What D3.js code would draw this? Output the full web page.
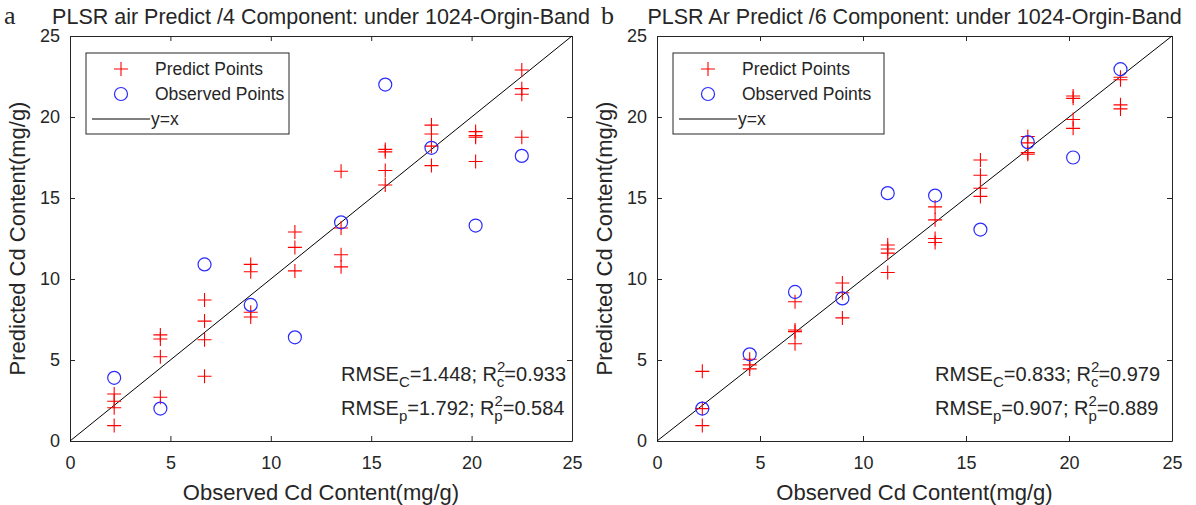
<!DOCTYPE html>
<html>
<head>
<meta charset="utf-8">
<script src="https://cdn.jsdelivr.net/npm/d3@7"></script>
<style>
  body { margin: 0; background: #fff; }
  text { font-family: "Liberation Sans", Arial, sans-serif; fill: #262626; }
</style>
</head>
<body>
<div id="chart"></div>
<script>
// Observed concentrations (shared x positions)
const xObs = [2.2, 4.5, 6.7, 9.0, 11.2, 13.5, 15.7, 18.0, 20.2, 22.5];

// Panel a: observed (blue circles) and predicted (red crosses)
const obsA = [3.9, 2.0, 10.9, 8.4, 6.4, 13.5, 22.0, 18.1, 13.3, 17.6];
const predA = [
  [2.9, 2.45, 2.05, 0.95],
  [6.55, 6.3, 5.2, 2.7],
  [8.7, 7.4, 6.25, 4.0],
  [10.9, 10.45, 7.95, 7.65],
  [12.9, 11.95, 10.5],
  [16.65, 13.15, 11.5, 10.75],
  [18.0, 17.85, 16.7, 15.8],
  [19.5, 18.95, 18.2, 17.0],
  [19.1, 18.85, 18.75, 17.25],
  [22.9, 21.75, 21.4, 18.75]
];

// Panel b
const obsB = [2.0, 5.35, 9.2, 8.8, 15.3, 15.15, 13.05, 18.45, 17.5, 22.95];
const predB = [
  [4.3, 2.0, 0.95],
  [5.05, 4.7, 4.45],
  [8.6, 6.85, 6.75, 6.0],
  [9.75, 9.15, 7.6],
  [12.1, 11.85, 11.6, 10.4],
  [14.45, 13.65, 12.5, 12.25],
  [17.35, 16.4, 15.6, 15.1],
  [18.8, 18.4, 17.8, 17.7],
  [21.3, 21.15, 19.85, 19.3],
  [22.45, 22.3, 20.75, 20.5]
];

const ticks = [0, 5, 10, 15, 20, 25];
const legendLabels = ["Predict Points", "Observed Points", "y=x"];

const panels = [
  { tag: "a", title: "PLSR air Predict /4 Component: under 1024-Orgin-Band",
    obs: obsA, pred: predA, stats: [["C", "1.448", "c", "0.933"], ["p", "1.792", "p", "0.584"]],
    left: 70, right: 572, legendW: 203, tagX: 4 },
  { tag: "b", title: "PLSR Ar Predict /6 Component: under 1024-Orgin-Band",
    obs: obsB, pred: predB, stats: [["C", "0.833", "c", "0.979"], ["p", "0.907", "p", "0.889"]],
    left: 657, right: 1172, legendW: 211, tagX: 601 }
];

const W = 1196, H = 505;
const plotTop = 36, plotBottom = 441;

const svg = d3.select("#chart").append("svg")
  .attr("width", W).attr("height", H);

panels.forEach(p => {
  const x = d3.scaleLinear().domain([0, 25]).range([p.left, p.right]);
  const y = d3.scaleLinear().domain([0, 25]).range([plotBottom, plotTop]);
  const g = svg.append("g");

  // axes with inward ticks on all four sides
  const axisStyle = sel => {
    sel.select(".domain").attr("stroke", "#262626");
    sel.selectAll(".tick line").attr("stroke", "#262626");
    sel.selectAll(".tick text").style("font-size", "18px").attr("fill", "#262626");
  };
  g.append("g").attr("transform", `translate(0,${plotBottom})`)
    .call(d3.axisBottom(x).tickValues(ticks).tickSizeInner(-5).tickSizeOuter(0).tickPadding(15))
    .call(axisStyle);
  g.append("g").attr("transform", `translate(${p.left},0)`)
    .call(d3.axisLeft(y).tickValues(ticks).tickSizeInner(-5).tickSizeOuter(0).tickPadding(10))
    .call(axisStyle);
  g.append("g").attr("transform", `translate(0,${plotTop})`)
    .call(d3.axisTop(x).tickValues(ticks).tickSizeInner(-5).tickSizeOuter(0).tickFormat(""))
    .call(axisStyle);
  g.append("g").attr("transform", `translate(${p.right},0)`)
    .call(d3.axisRight(y).tickValues(ticks).tickSizeInner(-5).tickSizeOuter(0).tickFormat(""))
    .call(axisStyle);

  // y = x line
  g.append("line")
    .attr("x1", x(0)).attr("y1", y(0)).attr("x2", x(25)).attr("y2", y(25))
    .attr("stroke", "#000").attr("stroke-width", 1);

  // predicted crosses
  const crosses = [];
  p.pred.forEach((ys, i) => ys.forEach(v => crosses.push([xObs[i], v])));
  g.selectAll(".cross").data(crosses).enter().append("path")
    .attr("class", "cross")
    .attr("d", d => `M${x(d[0]) - 7},${y(d[1])}h14M${x(d[0])},${y(d[1]) - 7}v14`)
    .attr("stroke", "#ff0000").attr("stroke-width", 1.1).attr("fill", "none");

  // observed circles
  g.selectAll(".obs").data(p.obs).enter().append("circle")
    .attr("class", "obs")
    .attr("cx", (d, i) => x(xObs[i])).attr("cy", d => y(d)).attr("r", 6.5)
    .attr("fill", "none").attr("stroke", "#2a2aff").attr("stroke-width", 1.2);

  // title and panel tag
  g.append("text").attr("x", (p.left + p.right) / 2).attr("y", 24)
    .attr("text-anchor", "middle").style("font-size", "21.5px").attr("fill", "#000")
    .text(p.title);
  g.append("text").attr("x", p.tagX).attr("y", 24)
    .style("font-family", "'Liberation Serif', serif").style("font-size", "26px").attr("fill", "#000")
    .text(p.tag);

  // axis labels
  g.append("text").attr("x", (p.left + p.right) / 2).attr("y", 500)
    .attr("text-anchor", "middle").style("font-size", "22px")
    .text("Observed Cd Content(mg/g)");
  g.append("text")
    .attr("transform", `translate(${p.left - 45},${(plotTop + plotBottom) / 2}) rotate(-90)`)
    .attr("text-anchor", "middle").style("font-size", "22px")
    .text("Predicted Cd Content(mg/g)");

  // legend
  const lx = p.left + 16, ly = 53;
  const lg = g.append("g").attr("transform", `translate(${lx},${ly})`);
  lg.append("rect").attr("width", p.legendW).attr("height", 81)
    .attr("fill", "#fff").attr("stroke", "#262626").attr("stroke-width", 1);
  lg.append("path").attr("d", "M28,16h14M35,9v14")
    .attr("stroke", "#ff0000").attr("stroke-width", 1.1);
  lg.append("circle").attr("cx", 35).attr("cy", 41).attr("r", 6.5)
    .attr("fill", "none").attr("stroke", "#2a2aff").attr("stroke-width", 1.2);
  lg.append("line").attr("x1", 6).attr("x2", 64).attr("y1", 66).attr("y2", 66)
    .attr("stroke", "#000");
  lg.selectAll(".lt").data(legendLabels).enter().append("text")
    .attr("x", (d, i) => i === 2 ? 65 : 69).attr("y", (d, i) => 22 + i * 25)
    .style("font-size", "17.5px").text(d => d);

  // statistics annotation
  p.stats.forEach((s, i) => {
    const t = g.append("text").attr("x", x(13.5)).attr("y", plotBottom - 60 + i * 34)
      .style("font-size", "20px");
    t.append("tspan").text("RMSE");
    t.append("tspan").attr("dy", 6).style("font-size", "15px").text(s[0]);
    t.append("tspan").attr("dy", -6).text("=" + s[1] + "; R");
    t.append("tspan").attr("dy", -9).style("font-size", "15px").text("2");
    t.append("tspan").attr("dx", -8.5).attr("dy", 15).style("font-size", "15px").text(s[2]);
    t.append("tspan").attr("dy", -6).text("=" + s[3]);
  });
});
</script>
</body>
</html>
